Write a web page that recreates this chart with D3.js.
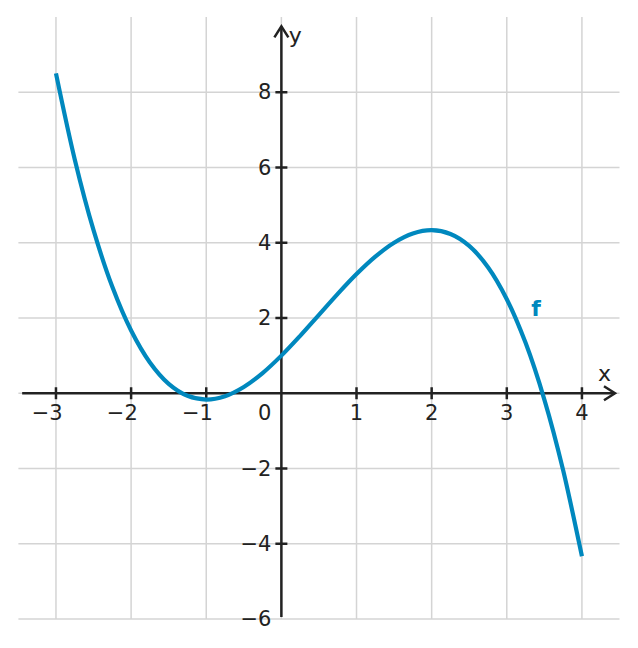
<!DOCTYPE html>
<html><head><meta charset="utf-8">
<script src="https://cdn.jsdelivr.net/npm/d3@7"></script>
<style>body{margin:0;background:#fff}svg{display:block}text{font-family:"DejaVu Sans",sans-serif}</style>
</head><body>
<svg id="c" width="638" height="648"></svg>
<script>
const xTicks = [-3,-2,-1,1,2,3,4];
const yTicks = [-6,-4,-2,2,4,6,8];
const xGrid = [-3,-2,-1,0,1,2,3,4];
const yGrid = [-6,-4,-2,0,2,4,6,8];
const curveX = [-3,-2.75,-2.5,-2.25,-2,-1.75,-1.5,-1.25,-1,-0.75,-0.5,-0.25,0,0.25,0.5,0.75,1,1.25,1.5,1.75,2,2.25,2.5,2.75,3,3.25,3.5,3.75,4];
const curveY = [8.5,6.213,4.333,2.828,1.667,0.818,0.25,-0.068,-0.167,-0.078,0.167,0.536,1,1.526,2.083,2.641,3.167,3.63,4,4.245,4.333,4.234,3.917,3.349,2.5,1.339,-0.167,-2.047,-4.333];

const svg = d3.select("#c");
const x = d3.scaleLinear().domain([-3.5,4.5]).range([18.4,619.5]);
const y = d3.scaleLinear().domain([-6,10]).range([619,17]);
const ink = "#222";
const gridC = "#d4d4d4";
const FS = 21;

svg.append("g").selectAll("line").data(xGrid).join("line")
  .attr("x1",d=>x(d)).attr("x2",d=>x(d)).attr("y1",y(10)).attr("y2",y(-6))
  .attr("stroke",gridC).attr("stroke-width",1.5);
svg.append("g").selectAll("line").data(yGrid).join("line")
  .attr("y1",d=>y(d)).attr("y2",d=>y(d)).attr("x1",x(-3.5)).attr("x2",x(4.5))
  .attr("stroke",gridC).attr("stroke-width",1.5);

// axes
svg.append("line").attr("x1",x(-3.45)).attr("x2",x(4.44)).attr("y1",y(0)).attr("y2",y(0)).attr("stroke",ink).attr("stroke-width",2.5);
svg.append("line").attr("x1",x(0)).attr("x2",x(0)).attr("y1",y(-5.95)).attr("y2",y(9.75)).attr("stroke",ink).attr("stroke-width",2.5);
// arrows
const ax = x(4.44), ay = y(0);
svg.append("path").attr("d",`M${ax-11},${ay-7}L${ax},${ay}L${ax-11},${ay+7}`).attr("fill","none").attr("stroke",ink).attr("stroke-width",2.5);
const bx = x(0), by = y(9.75);
svg.append("path").attr("d",`M${bx-7},${by+11}L${bx},${by}L${bx+7},${by+11}`).attr("fill","none").attr("stroke",ink).attr("stroke-width",2.5);

// ticks
svg.append("g").selectAll("line").data(xTicks).join("line")
  .attr("x1",d=>x(d)).attr("x2",d=>x(d)).attr("y1",y(0)-6).attr("y2",y(0)+6)
  .attr("stroke",ink).attr("stroke-width",2.5);
svg.append("g").selectAll("line").data(yTicks.filter(d=>d!==-6)).join("line")
  .attr("y1",d=>y(d)).attr("y2",d=>y(d)).attr("x1",x(0)-6).attr("x2",x(0)+6)
  .attr("stroke",ink).attr("stroke-width",2.5);

const fmt = d => d<0 ? "\u2212"+Math.abs(d) : String(d);
const halfDigit = FS*0.318;
svg.append("g").selectAll("text").data(xTicks).join("text")
  .attr("x",d=> d<0 ? x(d)+halfDigit : x(d)).attr("y",y(0)+27)
  .attr("text-anchor",d=> d<0 ? "end" : "middle")
  .attr("font-size",FS).attr("fill",ink).text(fmt);
svg.append("g").selectAll("text").data(yTicks).join("text")
  .attr("x",x(0)-10).attr("y",d=>y(d)+7).attr("text-anchor","end")
  .attr("font-size",FS).attr("fill",ink).text(fmt);
svg.append("text").attr("x",x(0)-10).attr("y",y(0)+27).attr("text-anchor","end")
  .attr("font-size",FS).attr("fill",ink).text("0");
svg.append("text").attr("x",x(4.3)).attr("y",y(0)-12).attr("text-anchor","middle")
  .attr("font-size",22).attr("fill",ink).text("x");
svg.append("text").attr("x",x(0)+14).attr("y",y(9.3)).attr("text-anchor","middle")
  .attr("font-size",22).attr("fill",ink).text("y");

const pts = curveX.map((v,i)=>[v,curveY[i]]);
svg.append("path").datum(pts)
  .attr("d",d3.line().x(d=>x(d[0])).y(d=>y(d[1])).curve(d3.curveCatmullRom))
  .attr("fill","none").attr("stroke","#0088be").attr("stroke-width",4.2);
svg.append("text").attr("x",x(3.39)).attr("y",y(2.05)).attr("text-anchor","middle")
  .attr("font-size",22).attr("font-weight","bold").attr("fill","#0088be").text("f");
</script>
</body></html>
